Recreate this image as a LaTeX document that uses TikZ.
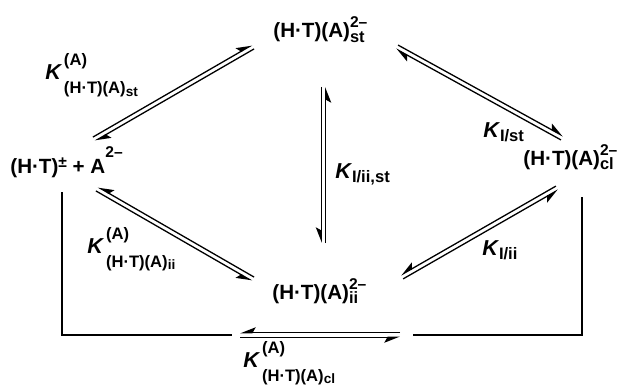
\documentclass[tikz,border=0pt]{standalone}
\usepackage{fontspec}
\setmainfont{Liberation Sans}
\usetikzlibrary{arrows.meta,calc}

% charge above, site below
\newcommand{\supsub}[2]{\makebox[0pt][l]{\raisebox{5pt}{\fontsize{7.8}{9}\selectfont #1}}\raisebox{-2.2pt}{\fontsize{8.2}{9}\selectfont #2}}
% binding constants
\newcommand{\Kab}[1]{{\itshape K}\kern1.5pt\makebox[0pt][l]{\raisebox{7pt}{\fontsize{8.3}{9}\selectfont (A)}}\raisebox{-7pt}{\fontsize{8.3}{9}\selectfont (H·T)(A)\raisebox{-1.2pt}{\fontsize{6.8}{7}\selectfont #1}}}
\newcommand{\Ki}[1]{{\itshape K}\kern0.5pt\raisebox{-2pt}{\fontsize{8.3}{9}\selectfont I/#1}}
% pair of harpoons between two ends
\newcommand{\eqgap}{1.1pt}
\newcommand{\eqpair}[4]{%
  \draw[#4] ($(#1)!#3!90:(#2)$) -- ($(#2)!#3!-90:(#1)$);
  \draw[#4] ($(#2)!#3!90:(#1)$) -- ($(#1)!#3!-90:(#2)$);
}

\tikzset{
  species/.style={anchor=base west, inner sep=0pt, font=\bfseries\fontsize{10.3}{12}\selectfont},
  klabel/.style={anchor=base west, inner sep=0pt, font=\bfseries\fontsize{10.8}{12}\selectfont},
  harp/.style={line width=0.65pt, -{Stealth[harpoon,length=7pt,width=5.5pt,inset=1.5pt]}},
  harpswap/.style={line width=0.65pt, -{Stealth[harpoon,swap,length=7pt,width=5.5pt,inset=1.5pt]}},
  frame/.style={line width=0.65pt}
}

\begin{document}
\begin{tikzpicture}[x=0.5pt, y=-0.5pt]
  \useasboundingbox (0,0) rectangle (631,390);
  % species
  \node[species] (st) at (273,38) {(H·T)(A)\supsub{2–}{st}};
  \node[species] (free) at (10,173) {(H·T)\raisebox{3pt}{\fontsize{7.8}{9}\selectfont ±} + A\raisebox{8pt}{\fontsize{7.8}{9}\selectfont 2–}};
  \node[species] (cl) at (523,165) {(H·T)(A)\supsub{2–}{cl}};
  \node[species] (ii) at (272,299) {(H·T)(A)\supsub{2–}{ii}};
  % constants
  \node[klabel] (kst) at (45,80) {\Kab{st}};
  \node[klabel] (kii) at (87,253) {\Kab{ii}};
  \node[klabel] (kcl) at (243,367) {\Kab{cl}};
  \node[klabel] (kIst) at (483,137) {\Ki{st}};
  \node[klabel] (kIiist) at (335,178) {\Ki{ii,st}};
  \node[klabel] (kIii) at (482,255) {\Ki{ii}};
  % arrow ends
  \coordinate (tl1) at (253,47);  \coordinate (tl2) at (94,139);
  \coordinate (tr1) at (397,47);  \coordinate (tr2) at (562,138);
  \coordinate (bl1) at (97,189);  \coordinate (bl2) at (253,279);
  \coordinate (br1) at (402,277); \coordinate (br2) at (557,188);
  \coordinate (v1) at (323.5,87); \coordinate (v2) at (323.5,243);
  \coordinate (h1) at (240,335);  \coordinate (h2) at (400,335);
  \eqpair{tl1}{tl2}{\eqgap}{harp}
  \eqpair{tr1}{tr2}{\eqgap}{harp}
  \eqpair{bl1}{bl2}{-\eqgap}{harpswap}
  \eqpair{br1}{br2}{-\eqgap}{harpswap}
  \eqpair{v1}{v2}{-\eqgap}{harpswap}
  \eqpair{h1}{h2}{-\eqgap}{harpswap}
  % frame below
  \coordinate (lt) at (62,192);  \coordinate (lb) at (232,335);
  \coordinate (rt) at (582,197); \coordinate (rb) at (413,335);
  \draw[frame] (lt) |- (lb);
  \draw[frame] (rt) |- (rb);
\end{tikzpicture}
\end{document}
